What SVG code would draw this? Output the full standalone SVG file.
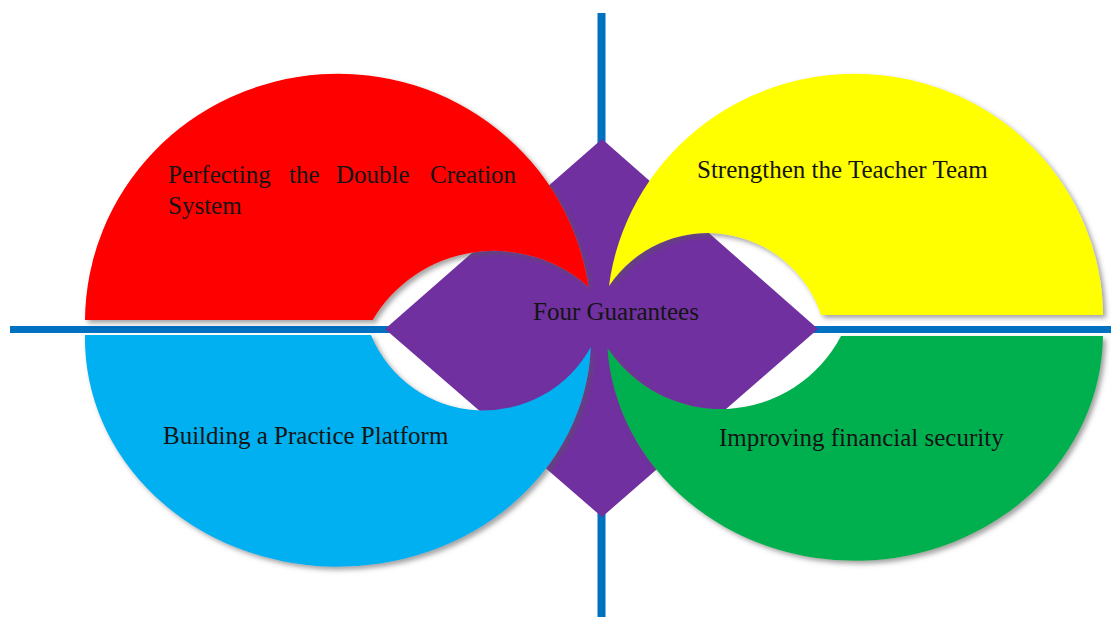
<svg xmlns="http://www.w3.org/2000/svg" width="1111" height="617" viewBox="0 0 1111 617">
  <style>
    .lbl { font-family: "Liberation Serif", "Times New Roman", serif; font-size: 25px; fill: #141414; }
    .axis { stroke: #0070C0; fill: none; }
    .petal { filter: url(#shadow); }
  </style>
  <defs>
    <filter id="shadow" x="-10%" y="-10%" width="120%" height="120%">
      <feDropShadow dx="3" dy="3" stdDeviation="2.5" flood-color="#555555" flood-opacity="0.55"/>
    </filter>
  </defs>
  <rect x="0" y="0" width="1111" height="617" fill="#ffffff"/>

  <g id="connectors">
    <line class="axis" x1="10" y1="329.5" x2="1111" y2="329.5" stroke-width="7"/>
    <line class="axis" x1="601.5" y1="13" x2="601.5" y2="617" stroke-width="8"/>
  </g>

  <g id="node-center-shape">
    <polygon points="602,139 818,329 602,517 385,329" fill="#7030A0"/>
  </g>

  <g id="node-double-creation">
    <path class="petal" d="M 85,320 A 253 248 0 0 1 588.5,287 A 141 141 0 0 0 372.8,320 Z" fill="#FF0000"/>
    <text class="lbl"><tspan x="168" y="183">Perfecting</tspan><tspan x="289" y="183">the</tspan><tspan x="336" y="183">Double</tspan><tspan x="430" y="183">Creation</tspan><tspan x="168" y="214">System</tspan></text>
  </g>

  <g id="node-teacher-team">
    <path class="petal" d="M 609,286 A 248 243 0 0 1 1103,315 L 821,315 A 119 119 0 0 0 609,286 Z" fill="#FFFF00"/>
    <text class="lbl" x="697" y="178">Strengthen the Teacher Team</text>
  </g>

  <g id="node-practice-platform">
    <path class="petal" d="M 85,335 L 371,335 A 122 122 0 0 0 590.8,347 A 253 228 0 0 1 85,335 Z" fill="#00B0F0"/>
    <text class="lbl" x="163" y="444">Building a Practice Platform</text>
  </g>

  <g id="node-financial-security">
    <path class="petal" d="M 1103,336 L 841,336 A 135.5 135.5 0 0 1 607.5,348 A 248 227 0 0 0 1103,336 Z" fill="#00B050"/>
    <text class="lbl" x="719" y="446">Improving financial security</text>
  </g>

  <g id="node-center-label">
    <text class="lbl" x="533" y="320">Four Guarantees</text>
  </g>
</svg>
